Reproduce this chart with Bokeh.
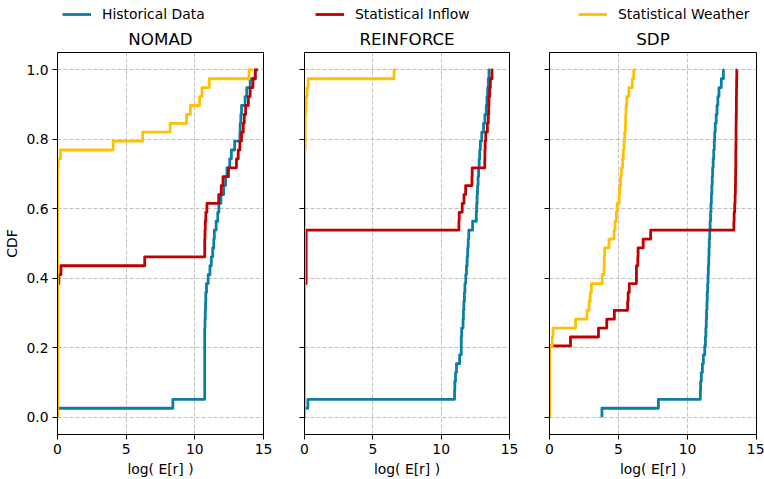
import numpy as np
from bokeh.plotting import figure
from bokeh.layouts import row, column
from bokeh.models import Legend, LegendItem, FixedTicker, NumeralTickFormatter, Range1d
from bokeh.embed import file_html
from bokeh.resources import INLINE

# ---------------- data (sorted samples; CDF level k/39 reached at sample k-1) -------------
panels = ["NOMAD", "REINFORCE", "SDP"]
series_names = ["Historical Data", "Statistical Inflow", "Statistical Weather"]
colors = ["#0a7ea4", "#c00000", "#ffc000"]

nomad_hist = [0.0, 8.4, 10.72, 10.72, 10.72, 10.72, 10.72, 10.72, 10.72, 10.72,
              10.74, 10.76, 10.78, 10.8, 10.85, 10.97, 11.1, 11.2, 11.3, 11.38,
              11.42, 11.55, 11.67, 11.75, 11.9, 12.1, 12.24, 12.34, 12.54, 12.66,
              12.9, 13.28, 13.3, 13.35, 13.4, 13.66, 13.78, 14.03, 14.4, 14.6]
nomad_inflow = [0.0, 0.0, 0.0, 0.0, 0.0, 0.0, 0.0, 0.0, 0.0, 0.0,
                0.0, 0.0, 0.0, 0.0, 0.0, 0.1, 0.25, 6.35, 10.72, 10.72,
                10.74, 10.76, 10.8, 10.88, 11.74, 11.92, 12.05, 12.45, 13.03, 13.16,
                13.28, 13.4, 13.53, 13.6, 13.7, 13.9, 14.03, 14.23, 14.4, 14.55]
nomad_weather = [0.0, 0.0, 0.0, 0.0, 0.0, 0.0, 0.0, 0.0, 0.0, 0.0,
                 0.0, 0.0, 0.0, 0.0, 0.0, 0.0, 0.0, 0.0, 0.0, 0.0,
                 0.0, 0.0, 0.0, 0.0, 0.0, 0.0, 0.0, 0.0, 0.05, 0.22,
                 4.05, 6.2, 8.2, 9.4, 9.68, 10.35, 10.52, 11.05, 13.95, 14.25]

reinforce_hist = [0.0, 0.25, 10.98, 11.0, 11.05, 11.12, 11.35, 11.47, 11.47, 11.5,
                  11.6, 11.63, 11.66, 11.7, 11.74, 11.8, 11.85, 11.9, 11.94, 11.98,
                  12.02, 12.3, 12.57, 12.6, 12.63, 12.66, 12.7, 12.74, 12.78, 12.82,
                  12.87, 12.97, 13.1, 13.2, 13.3, 13.35, 13.4, 13.45, 13.5, 13.6]
reinforce_inflow = [0.0, 0.0, 0.0, 0.0, 0.0, 0.0, 0.0, 0.0, 0.0, 0.0,
                    0.0, 0.0, 0.0, 0.0, 0.0, 0.12, 0.12, 0.12, 0.12, 0.12,
                    0.12, 11.3, 11.32, 11.54, 11.67, 11.79, 12.25, 12.27, 13.19, 13.2,
                    13.22, 13.26, 13.38, 13.45, 13.48, 13.5, 13.55, 13.6, 13.72, 13.8]
reinforce_weather = [0.0, 0.0, 0.0, 0.0, 0.0, 0.0, 0.0, 0.0, 0.0, 0.0,
                     0.0, 0.0, 0.0, 0.0, 0.0, 0.0, 0.0, 0.0, 0.0, 0.0,
                     0.0, 0.0, 0.0, 0.0, 0.0, 0.0, 0.0, 0.0, 0.0, 0.0,
                     0.05, 0.05, 0.05, 0.05, 0.1, 0.12, 0.18, 0.27, 6.55, 6.7]

sdp_hist = [3.8, 7.89, 10.93, 10.95, 11.0, 11.08, 11.15, 11.25, 11.3, 11.33,
            11.36, 11.38, 11.41, 11.43, 11.46, 11.49, 11.51, 11.54, 11.56, 11.58,
            11.61, 11.64, 11.67, 11.7, 11.73, 11.76, 11.79, 11.82, 11.86, 11.9,
            11.94, 11.97, 12.01, 12.08, 12.14, 12.2, 12.28, 12.45, 12.6, 12.65]
sdp_inflow = [0.0, 0.0, 0.0, 0.0, 0.0, 0.0, 0.0, 0.0, 1.52, 3.55,
              4.15, 4.7, 5.66, 5.7, 5.78, 6.3, 6.3, 6.4, 6.42, 6.79,
              7.33, 13.36, 13.38, 13.42, 13.45, 13.47, 13.48, 13.49, 13.5, 13.5,
              13.51, 13.52, 13.52, 13.53, 13.54, 13.54, 13.55, 13.56, 13.57, 13.58]
sdp_weather = [0.0, 0.0, 0.0, 0.0, 0.0, 0.0, 0.0, 0.0, 0.2, 0.25,
               1.89, 2.72, 2.87, 2.95, 3.04, 3.82, 3.95, 3.97, 4.0, 4.31,
               4.68, 4.75, 4.85, 4.9, 5.05, 5.08, 5.15, 5.2, 5.3, 5.35,
               5.4, 5.45, 5.5, 5.52, 5.55, 5.6, 5.75, 6.0, 6.1, 6.25]

panel_data = [
    [nomad_hist, nomad_inflow, nomad_weather],
    [reinforce_hist, reinforce_inflow, reinforce_weather],
    [sdp_hist, sdp_inflow, sdp_weather],
]

x_ticks = [0, 5, 10, 15]
y_ticks = [0.0, 0.2, 0.4, 0.6, 0.8, 1.0]
x_label = "log( E[r] )"
y_label = "CDF"


def cdf_path(samples):
    """Empirical CDF drawn as a 'pre' step line."""
    s = list(samples)
    n = len(s)
    levels = [k / (n - 1) for k in range(n)]
    xs, ys = [s[0]], [0.0]
    for k in range(1, n):
        xs += [s[k - 1], s[k]]
        ys += [levels[k], levels[k]]
    return xs, ys


# ---------------- layout / style -------------
FONT = "DejaVu Sans"
TICK_FS = "13.9px"
TITLE_FS = "16.7px"
LW = 2.8
widths = [283, 246, 235]
lefts = [57, 21, 20]
rights = [20, 20, 8]
W = sum(widths)
STRIP_H = 22
H = 479 - STRIP_H
TOP = 51 - STRIP_H
BOTTOM = 43

# ---- legend strip on top ----
leg_fig = figure(width=W, height=STRIP_H, output_backend="svg", toolbar_location=None,
                 x_range=Range1d(0, 1), y_range=Range1d(0, 1),
                 x_axis_type=None, y_axis_type=None, min_border=0)
leg_fig.outline_line_color = None
leg_fig.background_fill_color = "white"
leg_fig.border_fill_color = "white"
legend_x = [62, 315, 578]
for j, nm in enumerate(series_names):
    # a legend-only renderer: one point placed outside the visible range
    r = leg_fig.line(x=[np.nan, np.nan], y=[np.nan, np.nan],
                     line_color=colors[j], line_width=LW)
    leg = Legend(items=[LegendItem(label=nm, renderers=[r])],
                 location=(legend_x[j], 0), padding=0, margin=0,
                 border_line_color=None, background_fill_alpha=0,
                 glyph_width=29, glyph_height=16, label_standoff=11, label_height=16,
                 label_text_font=FONT, label_text_font_size=TICK_FS,
                 label_text_color="black")
    leg_fig.add_layout(leg)

figs = []
for i, name in enumerate(panels):
    p = figure(width=widths[i], height=H, output_backend="svg", toolbar_location=None,
               x_range=Range1d(0, 15), y_range=Range1d(-0.05, 1.05),
               min_border_left=lefts[i], min_border_right=rights[i],
               min_border_top=TOP, min_border_bottom=BOTTOM)
    p.background_fill_color = "white"
    p.border_fill_color = "white"
    p.outline_line_color = "black"
    p.outline_line_width = 1

    p.title.text = name
    p.title.align = "center"
    p.title.text_font = FONT
    p.title.text_font_size = TITLE_FS
    p.title.text_font_style = "normal"
    p.title.text_color = "black"
    p.title.standoff = 8

    p.xaxis.ticker = FixedTicker(ticks=x_ticks)
    p.yaxis.ticker = FixedTicker(ticks=y_ticks)
    p.yaxis.formatter = NumeralTickFormatter(format="0.0")
    for ax in (p.xaxis[0], p.yaxis[0]):
        ax.axis_line_color = "black"
        ax.axis_line_width = 1
        ax.major_tick_out = 5
        ax.major_tick_in = 0
        ax.major_tick_line_color = "black"
        ax.major_tick_line_width = 1
        ax.minor_tick_line_color = None
        ax.major_label_text_font = FONT
        ax.major_label_text_font_size = TICK_FS
        ax.major_label_text_color = "black"
        ax.major_label_standoff = 4
        ax.axis_label_text_font = FONT
        ax.axis_label_text_font_size = TICK_FS
        ax.axis_label_text_font_style = "normal"
        ax.axis_label_text_color = "black"
    p.xaxis.axis_label = x_label
    p.xaxis.axis_label_standoff = 4
    if i == 0:
        p.yaxis.axis_label = y_label
        p.yaxis.axis_label_standoff = 3
    else:
        p.yaxis.major_label_overrides = {t: "" for t in y_ticks}

    for g in (p.xgrid[0], p.ygrid[0]):
        g.grid_line_color = "#b0b0b0"
        g.grid_line_width = 0.8
        g.grid_line_dash = "4 2"

    for j, samples in enumerate(panel_data[i]):
        xs, ys = cdf_path(samples)
        p.line(xs, ys, line_color=colors[j], line_width=LW, line_join="round")
    figs.append(p)

layout = column(leg_fig, row(*figs, spacing=0), spacing=0)
open("out.html", "w").write(file_html(layout, INLINE))
